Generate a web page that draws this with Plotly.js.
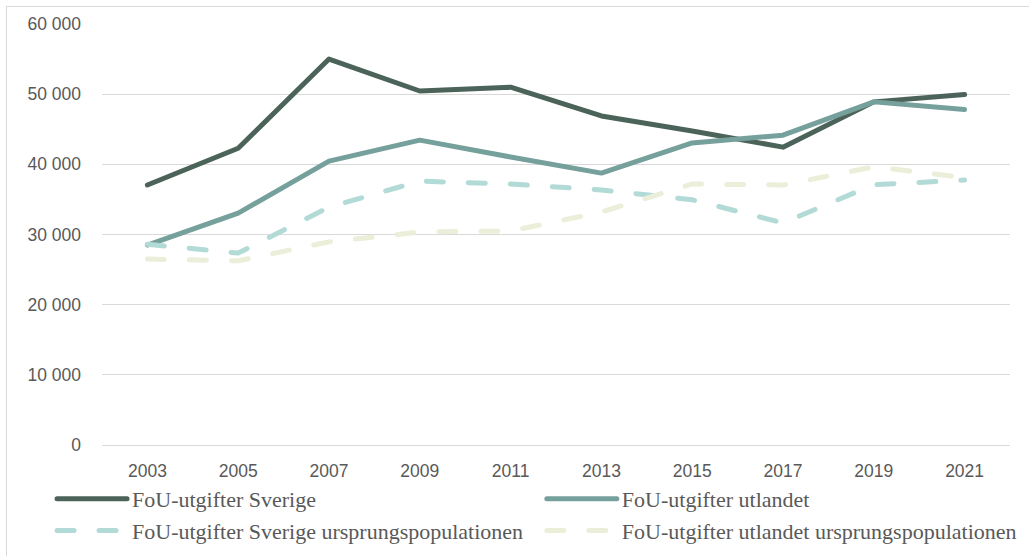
<!DOCTYPE html>
<html>
<head>
<meta charset="utf-8">
<script src="https://cdn.plot.ly/plotly-3.0.1.min.js"></script>
<style>
  html, body { margin: 0; padding: 0; background: #fff; }
  #wrap { position: relative; width: 1029px; height: 556px; }
  #chart { width: 1029px; height: 556px; }
  #frame { position: absolute; left: 6px; top: 6px; right: 0; bottom: 0;
           border-top: 1px solid #d9d9d9; border-left: 1px solid #d9d9d9; pointer-events: none; }
  .js-line { stroke-linecap: round; stroke-linejoin: round; }
  .legendlines path { stroke-linecap: round; }
</style>
</head>
<body>
<div id="wrap">
  <div id="chart"></div>
  <div id="frame"></div>
</div>
<script>
const years = ['2003','2005','2007','2009','2011','2013','2015','2017','2019','2021'];
const fouSverige = [37050, 42300, 55000, 50450, 51000, 46900, 44750, 42450, 48900, 49950];
const fouUtlandet = [28500, 33050, 40450, 43450, 41050, 38750, 43050, 44150, 48900, 47800];
const fouSverigeUrspr = [28600, 27350, 33900, 37600, 37200, 36350, 34950, 31650, 37100, 37750];
const fouUtlandetUrspr = [26500, 26250, 28950, 30350, 30500, 33200, 37200, 37050, 39650, 38100];
const seriesNames = ['FoU-utgifter Sverige', 'FoU-utgifter utlandet',
  'FoU-utgifter Sverige ursprungspopulationen', 'FoU-utgifter utlandet ursprungspopulationen'];

const dashPat = '17px,25px';
const traces = [
  {x: years, y: fouSverige, name: seriesNames[0], legend: 'legend',
   line: {color: '#4b6359', width: 5}},
  {x: years, y: fouUtlandet, name: seriesNames[1], legend: 'legend2',
   line: {color: '#76a09c', width: 5}},
  {x: years, y: fouSverigeUrspr, name: seriesNames[2], legend: 'legend',
   line: {color: '#b2dad6', width: 5, dash: dashPat}},
  {x: years, y: fouUtlandetUrspr, name: seriesNames[3], legend: 'legend2',
   line: {color: '#ebeed9', width: 5, dash: dashPat}}
].map(t => Object.assign({type: 'scatter', mode: 'lines', hoverinfo: 'skip'}, t));

const legendFont = {family: '"Liberation Serif", serif', size: 22, color: '#595959'};
const tickFont = {family: '"Liberation Sans Narrow", "Liberation Sans", sans-serif', size: 17.5, color: '#595959'};

const layout = {
  width: 1029, height: 556,
  margin: {l: 102, r: 19, t: 24, b: 111},
  paper_bgcolor: '#ffffff', plot_bgcolor: '#ffffff',
  separators: ', ',
  showlegend: true,
  xaxis: {
    type: 'category', range: [-0.5, years.length - 0.5],
    showgrid: false, showline: false, zeroline: false,
    ticks: '', tickfont: tickFont, ticklabelstandoff: 13, fixedrange: true
  },
  yaxis: {
    range: [0, 60000], dtick: 10000, tickformat: ',d',
    showgrid: true, gridcolor: '#d9d9d9', gridwidth: 1,
    zeroline: true, zerolinecolor: '#d9d9d9', zerolinewidth: 1,
    showline: false, ticks: '', tickfont: tickFont, ticklabelstandoff: 20, fixedrange: true
  },
  legend: {
    orientation: 'v', x: -0.055, xanchor: 'left', y: 0.1403, yref: 'container', yanchor: 'top',
    font: legendFont, itemwidth: 70, bgcolor: 'rgba(0,0,0,0)', traceorder: 'normal',
    tracegroupgap: 0
  },
  legend2: {
    orientation: 'v', x: 0.4844, xanchor: 'left', y: 0.1403, yref: 'container', yanchor: 'top',
    font: legendFont, itemwidth: 70, bgcolor: 'rgba(0,0,0,0)', traceorder: 'normal',
    tracegroupgap: 0
  }
};

Plotly.newPlot('chart', traces, layout, {displayModeBar: false, staticPlot: true});
</script>
</body>
</html>
